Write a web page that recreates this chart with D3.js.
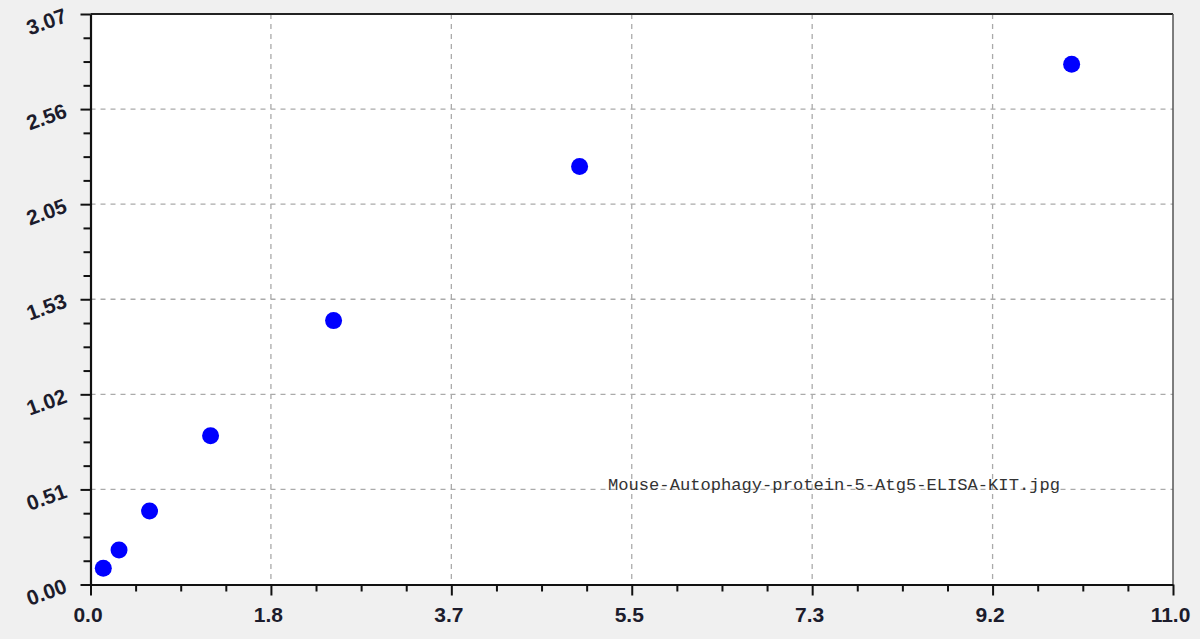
<!DOCTYPE html>
<html><head><meta charset="utf-8">
<script src="https://cdn.jsdelivr.net/npm/d3@7"></script>
<style>html,body{margin:0;padding:0;background:#f0f0f0;overflow:hidden}</style>
</head><body>
<svg id="c" width="1200" height="639"></svg>
<script>
// data
const concentrations = [0.13, 0.29, 0.60, 1.22, 2.47, 4.97, 9.97];
const odValues = [0.087, 0.186, 0.396, 0.801, 1.420, 2.249, 2.80];
const xTickLabels = ["0.0","1.8","3.7","5.5","7.3","9.2","11.0"];
const yTickLabels = ["0.00","0.51","1.02","1.53","2.05","2.56","3.07"];
const xMax = 11.0, yMax = 3.07;
const caption = "Mouse-Autophagy-protein-5-Atg5-ELISA-KIT.jpg";

const svg = d3.select("#c");
const L = 90.5, R = 1173, T = 14, B = 584.5;
const x = d3.scaleLinear().domain([0, xMax]).range([L, R]);
const y = d3.scaleLinear().domain([0, yMax]).range([B, T]);

const xMajor = xTickLabels.map((d, i) => i * xMax / (xTickLabels.length - 1));
const yMajor = yTickLabels.map((d, i) => i * yMax / (yTickLabels.length - 1));
const xMinor = [], yMinor = [];
for (let i = 0; i < xMajor.length - 1; i++) for (let k = 1; k < 4; k++) xMinor.push(xMajor[i] + k * (xMajor[i+1] - xMajor[i]) / 4);
for (let i = 0; i < yMajor.length - 1; i++) for (let k = 1; k < 4; k++) yMinor.push(yMajor[i] + k * (yMajor[i+1] - yMajor[i]) / 4);

// plot background
svg.append("rect").attr("x", L).attr("y", T).attr("width", R - L).attr("height", B - T).attr("fill", "#fff");

// grid
const grid = svg.append("g").attr("stroke", "#aaaaaa").attr("stroke-width", 1.3).attr("stroke-dasharray", "5,5");
grid.selectAll("line.v").data(xMajor.slice(1, -1)).join("line")
  .attr("x1", d => x(d)).attr("x2", d => x(d)).attr("y1", T).attr("y2", B);
grid.selectAll("line.h").data(yMajor.slice(1, -1)).join("line")
  .attr("y1", d => y(d)).attr("y2", d => y(d)).attr("x1", L).attr("x2", R);

// frame top/right
svg.append("line").attr("x1", L).attr("x2", R).attr("y1", T).attr("y2", T).attr("stroke", "#222").attr("stroke-width", 2);
svg.append("line").attr("x1", R).attr("x2", R).attr("y1", T).attr("y2", B).attr("stroke", "#555").attr("stroke-width", 1.5);

// axes: minor ticks
svg.append("g").attr("transform", `translate(0,${B})`)
  .call(d3.axisBottom(x).tickValues(xMinor).tickSize(7).tickFormat(""))
  .call(g => g.select(".domain").remove())
  .selectAll("line").attr("stroke", "#111").attr("stroke-width", 2);
svg.append("g").attr("transform", `translate(${L},0)`)
  .call(d3.axisLeft(y).tickValues(yMinor).tickSize(7).tickFormat(""))
  .call(g => g.select(".domain").remove())
  .selectAll("line").attr("stroke", "#111").attr("stroke-width", 2);

// x axis major
const xa = svg.append("g").attr("transform", `translate(0,${B})`)
  .call(d3.axisBottom(x).tickValues(xMajor).tickSize(11).tickSizeOuter(0).tickPadding(12)
    .tickFormat((d, i) => xTickLabels[i]));
xa.select(".domain").attr("stroke", "#111").attr("stroke-width", 2.2);
xa.selectAll("line").attr("stroke", "#111").attr("stroke-width", 2);
xa.selectAll("text").attr("font-family", "Liberation Sans, Arial, sans-serif").attr("font-weight", "bold")
  .attr("font-size", 21).attr("fill", "#1c1c2c").attr("dx", -3);

// y axis major
const ya = svg.append("g").attr("transform", `translate(${L},0)`)
  .call(d3.axisLeft(y).tickValues(yMajor).tickSize(10).tickSizeOuter(0).tickFormat(""));
ya.select(".domain").attr("stroke", "#111").attr("stroke-width", 2.2);
ya.selectAll("line").attr("stroke", "#111").attr("stroke-width", 2);
ya.selectAll(".tick").append("text")
  .text((d, i) => yTickLabels[i])
  .attr("text-anchor", "middle").attr("dominant-baseline", "central")
  .attr("transform", `translate(-44,7) rotate(-20)`)
  .attr("font-family", "Liberation Sans, Arial, sans-serif").attr("font-weight", "bold")
  .attr("font-size", 21).attr("fill", "#1c1c2c");

// points
svg.append("g").selectAll("circle").data(concentrations).join("circle")
  .attr("cx", d => x(d)).attr("cy", (d, i) => y(odValues[i])).attr("r", 8.5)
  .attr("fill", "#0000ff");

// caption
svg.append("text").attr("x", 608).attr("y", 490).text(caption)
  .attr("font-family", "Liberation Mono, monospace").attr("font-size", 16)
  .attr("textLength", 452).attr("lengthAdjust", "spacingAndGlyphs").attr("fill", "#333");
</script>
</body></html>
